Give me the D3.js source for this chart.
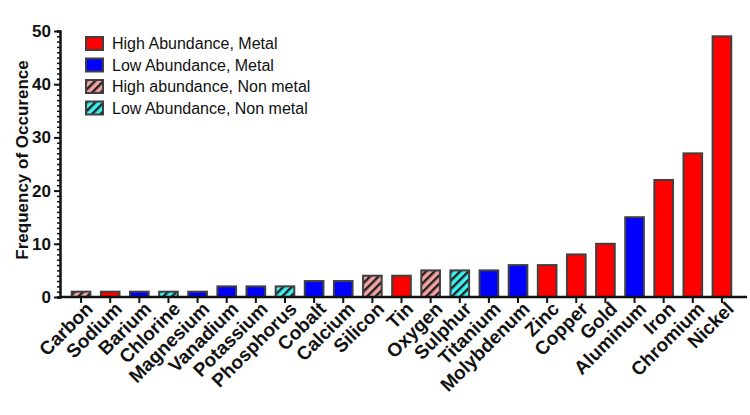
<!DOCTYPE html>
<html>
<head>
<meta charset="utf-8">
<script src="https://cdn.jsdelivr.net/npm/d3@7"></script>
<style>
  body { margin: 0; background: #fff; }
  text { font-family: "Liberation Sans", Arial, sans-serif; }
</style>
</head>
<body>
<div id="chart"></div>
<script>
const elements = ['Carbon', 'Sodium', 'Barium', 'Chlorine', 'Magnesium', 'Vanadium', 'Potassium',
  'Phosphorus', 'Cobalt', 'Calcium', 'Silicon', 'Tin', 'Oxygen', 'Sulphur', 'Titanium',
  'Molybdenum', 'Zinc', 'Copper', 'Gold', 'Aluminum', 'Iron', 'Chromium', 'Nickel'];
const frequency = [1, 1, 1, 1, 1, 2, 2, 2, 3, 3, 4, 4, 5, 5, 5, 6, 6, 8, 10, 15, 22, 27, 49];
// HM = high abundance metal, LM = low abundance metal, HN / LN = non metals
const group = ['HN', 'HM', 'LM', 'LN', 'LM', 'LM', 'LM', 'LN', 'LM', 'LM', 'HN', 'HM', 'HN', 'LN',
  'LM', 'LM', 'HM', 'HM', 'HM', 'LM', 'HM', 'HM', 'HM'];
const groupKeys = ['HM', 'LM', 'HN', 'LN'];
const groupNames = ['High Abundance, Metal', 'Low Abundance, Metal', 'High abundance, Non metal', 'Low Abundance, Non metal'];
const yTicks = [0, 10, 20, 30, 40, 50];

const width = 750, height = 415;
const margin = { top: 31, right: 3, bottom: 118, left: 60 };
const plotH = height - margin.top - margin.bottom;

const svg = d3.select('#chart').append('svg')
  .attr('width', width)
  .attr('height', height);

const defs = svg.append('defs');
function hatch(id, bg) {
  const p = defs.append('pattern')
    .attr('id', id)
    .attr('patternUnits', 'userSpaceOnUse')
    .attr('width', 6).attr('height', 6)
    .attr('patternTransform', 'rotate(45)');
  p.append('rect').attr('width', 6).attr('height', 6).attr('fill', bg);
  p.append('rect').attr('width', 2.4).attr('height', 6).attr('fill', '#222');
}
hatch('hatchPink', '#f4a3a3');
hatch('hatchCyan', '#3ff2f2');

const fill = d3.scaleOrdinal()
  .domain(groupKeys)
  .range(['#ff0000', '#0000ff', 'url(#hatchPink)', 'url(#hatchCyan)']);

const x = d3.scaleBand()
  .domain(elements)
  .range([66.5, 736.5])
  .paddingInner(0.36)
  .paddingOuter(0.18);

const y = d3.scaleLinear()
  .domain([0, 50])
  .range([margin.top + plotH, margin.top]);

// bars
svg.append('g').selectAll('rect')
  .data(elements)
  .enter().append('rect')
  .attr('x', d => x(d))
  .attr('y', (d, i) => y(frequency[i]))
  .attr('width', x.bandwidth())
  .attr('height', (d, i) => y(0) - y(frequency[i]))
  .attr('fill', (d, i) => fill(group[i]))
  .attr('stroke', '#404040')
  .attr('stroke-width', 2);

// y axis with minor ticks
const yAxisG = svg.append('g')
  .attr('transform', `translate(${margin.left},0)`);
yAxisG.call(d3.axisLeft(y).tickValues(d3.range(0, 51, 1)).tickSize(3).tickFormat(''))
  .call(g => g.selectAll('line').attr('stroke', '#111').attr('stroke-width', 1.5));
yAxisG.append('g').call(d3.axisLeft(y).tickValues(yTicks).tickSize(6).tickPadding(3))
  .call(g => g.select('.domain').remove())
  .call(g => g.selectAll('line').attr('stroke', '#111').attr('stroke-width', 2))
  .call(g => g.selectAll('text')
    .attr('fill', '#111')
    .style('font-size', '17px')
    .style('font-weight', 'bold')
    .style('font-family', '"Liberation Sans", Arial, sans-serif'));
yAxisG.select('.domain').attr('stroke', '#111').attr('stroke-width', 2.5);

// x axis
const xAxisG = svg.append('g')
  .attr('transform', `translate(0,${y(0)})`);
xAxisG.call(d3.axisBottom(x).tickSize(6).tickSizeOuter(0))
  .call(g => g.selectAll('line').attr('stroke', '#111').attr('stroke-width', 2))
  .call(g => g.selectAll('text')
    .attr('fill', '#111')
    .attr('transform', 'rotate(-45)')
    .attr('text-anchor', 'end')
    .attr('dx', '0em')
    .attr('dy', '0.6em')
    .attr('y', 7)
    .style('font-size', '19px')
    .style('font-weight', 'bold')
    .style('font-family', '"Liberation Sans", Arial, sans-serif'));
xAxisG.select('.domain')
  .attr('d', `M${margin.left},0H${width - margin.right}`)
  .attr('stroke', '#111').attr('stroke-width', 2.5);

// y title
svg.append('text')
  .attr('transform', `translate(28,${margin.top + plotH / 2 - 4}) rotate(-90)`)
  .attr('text-anchor', 'middle')
  .attr('fill', '#111')
  .style('font-size', '17px')
  .style('font-weight', 'bold')
  .text('Frequency of Occurence');

// legend
const legend = svg.append('g').attr('transform', 'translate(86,37)');
const row = legend.selectAll('g')
  .data(groupKeys)
  .enter().append('g')
  .attr('transform', (d, i) => `translate(0,${i * 21.5})`);
row.append('rect')
  .attr('width', 17).attr('height', 13)
  .attr('fill', d => fill(d))
  .attr('stroke', '#404040')
  .attr('stroke-width', 2);
row.append('text')
  .attr('x', 26).attr('y', 6.5)
  .attr('dy', '0.35em')
  .attr('fill', '#111')
  .style('font-size', '16px')
  .text((d, i) => groupNames[i]);
</script>
</body>
</html>
